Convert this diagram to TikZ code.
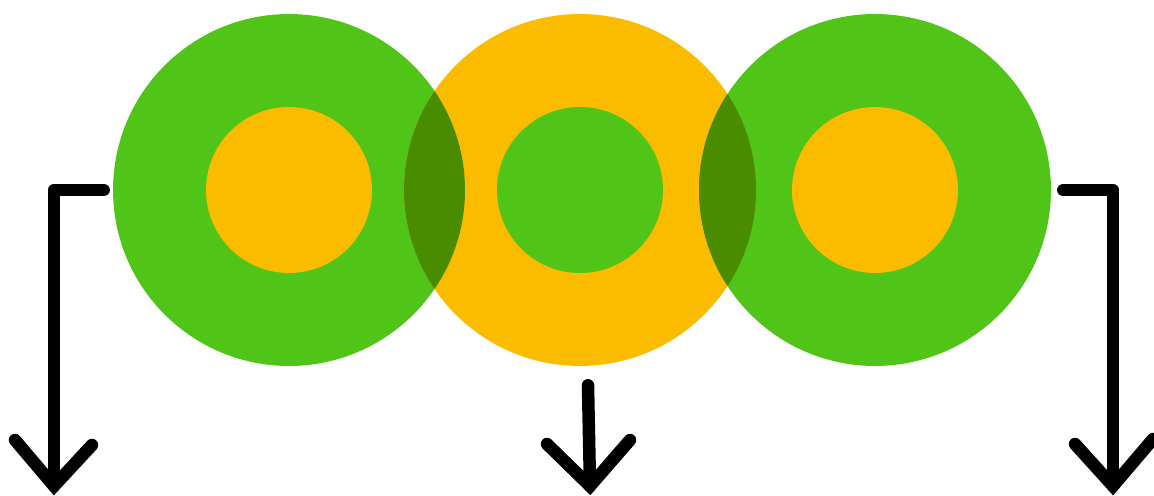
\documentclass[tikz,border=0pt]{standalone}
\usetikzlibrary{calc}
\definecolor{leafgreen}{RGB}{80,196,23}
\definecolor{amber}{RGB}{251,188,0}
\definecolor{lensgreen}{RGB}{74,140,0}

\begin{document}
\begin{tikzpicture}[
  x=0.02cm, y=-0.02cm,
  ring/.style={circle, inner sep=0pt, minimum size=7.04cm},
  core/.style={circle, inner sep=0pt, minimum size=3.32cm},
  conn/.style={line width=0.25cm, line cap=round, line join=round},
  barb/.style={line width=0.25cm, line cap=round, line join=miter}
]
  \useasboundingbox (0,0) rectangle (1154,496);

  % outer rings
  \node[ring, fill=leafgreen] (lring) at (289,190) {};
  \node[ring, fill=amber]     (mring) at (580,190) {};
  \node[ring, fill=leafgreen] (rring) at (875,190) {};

  % overlaps
  \begin{scope}
    \clip (lring.center) circle[radius=176];
    \fill[lensgreen] (mring.center) circle[radius=176];
  \end{scope}
  \begin{scope}
    \clip (rring.center) circle[radius=176];
    \fill[lensgreen] (mring.center) circle[radius=176];
  \end{scope}

  % inner cores
  \node[core, fill=amber]     (lcore) at (lring.center) {};
  \node[core, fill=leafgreen] (mcore) at (mring.center) {};
  \node[core, fill=amber]     (rcore) at (rring.center) {};

  % arrow ends
  \coordinate (ltip) at (54,486);
  \coordinate (mtip) at (590,486);
  \coordinate (rtip) at (1113,486);

  \draw[conn] ([xshift=-0.18cm]lring.west) -| (ltip);
  \draw[conn] ([xshift=0.16cm, yshift=-0.38cm]mring.south) -- (mtip);
  \draw[conn] ([xshift=0.24cm]rring.east) -| (rtip);

  \draw[barb] ($(ltip)+(-39,-46)$) -- (ltip) -- ++(38,-41);
  \draw[barb] ($(mtip)+(-43,-42)$) -- (mtip) -- ++(40,-46);
  \draw[barb] ($(rtip)+(-38,-42)$) -- (rtip) -- ++(40,-47);
\end{tikzpicture}
\end{document}
